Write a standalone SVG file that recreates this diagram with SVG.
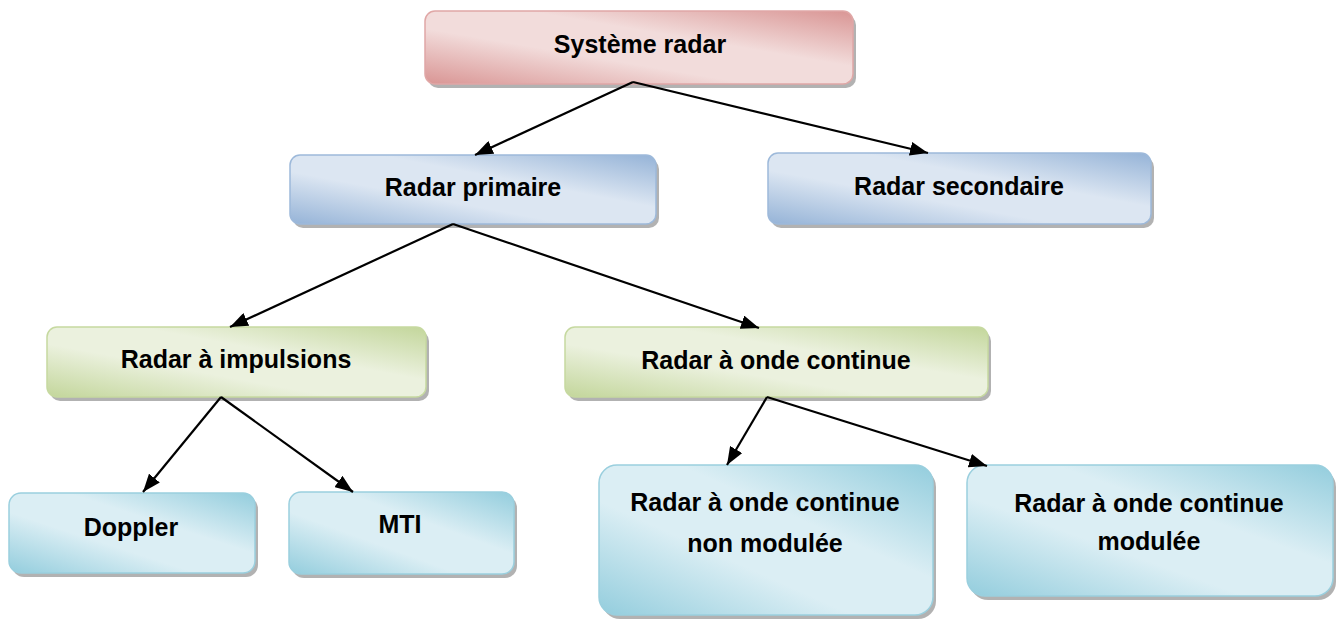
<svg xmlns="http://www.w3.org/2000/svg" width="1338" height="619" viewBox="0 0 1338 619">
<style>
.box{stroke-width:1.5}
.sh{fill:#000;opacity:0.3}
.t{font-family:"Liberation Sans",Arial,sans-serif;font-weight:bold;font-size:25px;fill:#000;text-anchor:middle}
.c line{stroke:#000;stroke-width:2.2;marker-end:url(#ah)}
</style>
<defs>
<linearGradient id="gRed" x1="0" y1="1" x2="1" y2="0">
<stop offset="0" stop-color="#D99594"/><stop offset="0.38" stop-color="#F2DCDB"/><stop offset="0.62" stop-color="#F2DCDB"/><stop offset="1" stop-color="#D99594"/>
</linearGradient>
<linearGradient id="gBlue" x1="0" y1="1" x2="1" y2="0">
<stop offset="0" stop-color="#95B3D7"/><stop offset="0.38" stop-color="#DCE6F2"/><stop offset="0.62" stop-color="#DCE6F2"/><stop offset="1" stop-color="#95B3D7"/>
</linearGradient>
<linearGradient id="gGreen" x1="0" y1="1" x2="1" y2="0">
<stop offset="0" stop-color="#C3D69B"/><stop offset="0.38" stop-color="#EBF1DE"/><stop offset="0.62" stop-color="#EBF1DE"/><stop offset="1" stop-color="#C3D69B"/>
</linearGradient>
<linearGradient id="gCyan" x1="0" y1="1" x2="1" y2="0">
<stop offset="0" stop-color="#93CDDD"/><stop offset="0.38" stop-color="#DBEEF4"/><stop offset="0.62" stop-color="#DBEEF4"/><stop offset="1" stop-color="#93CDDD"/>
</linearGradient>
<marker id="ah" viewBox="0 0 18 14" refX="18" refY="7" markerWidth="18" markerHeight="14" markerUnits="userSpaceOnUse" orient="auto">
<path d="M0,0 L18,7 L0,14 z" fill="#000"/>
</marker>
</defs>
<rect width="1338" height="619" fill="#fff"/>

<g id="n-systeme">
<rect class="sh" x="428" y="15" width="428" height="73" rx="10"/>
<rect class="box" x="425" y="11" width="428" height="73" rx="10" fill="url(#gRed)" stroke="#E0A7A6"/>
<text class="t" x="640" y="53">Système radar</text>
</g>
<g id="n-primaire">
<rect class="sh" x="293" y="159" width="366" height="69" rx="10"/>
<rect class="box" x="290" y="155" width="366" height="69" rx="10" fill="url(#gBlue)" stroke="#9DB9DA"/>
<text class="t" x="473" y="196">Radar primaire</text>
</g>
<g id="n-secondaire">
<rect class="sh" x="771" y="157" width="383" height="71" rx="10"/>
<rect class="box" x="768" y="153" width="383" height="71" rx="10" fill="url(#gBlue)" stroke="#9DB9DA"/>
<text class="t" x="959" y="195">Radar secondaire</text>
</g>
<g id="n-impulsions">
<rect class="sh" x="50" y="331" width="379" height="70" rx="10"/>
<rect class="box" x="47" y="327" width="379" height="70" rx="10" fill="url(#gGreen)" stroke="#C6D9A0"/>
<text class="t" x="236" y="368">Radar à impulsions</text>
</g>
<g id="n-onde">
<rect class="sh" x="568" y="331" width="423" height="70" rx="10"/>
<rect class="box" x="565" y="327" width="423" height="70" rx="10" fill="url(#gGreen)" stroke="#C6D9A0"/>
<text class="t" x="776" y="369">Radar à onde continue</text>
</g>
<g id="n-doppler">
<rect class="sh" x="12" y="497" width="246" height="80" rx="12"/>
<rect class="box" x="9" y="493" width="246" height="80" rx="12" fill="url(#gCyan)" stroke="#9ACFDE"/>
<text class="t" x="131" y="536">Doppler</text>
</g>
<g id="n-mti">
<rect class="sh" x="292" y="496" width="225" height="82" rx="12"/>
<rect class="box" x="289" y="492" width="225" height="82" rx="12" fill="url(#gCyan)" stroke="#9ACFDE"/>
<text class="t" x="400" y="533">MTI</text>
</g>
<g id="n-nonmod">
<rect class="sh" x="602" y="469" width="334" height="150" rx="18"/>
<rect class="box" x="599" y="465" width="334" height="150" rx="18" fill="url(#gCyan)" stroke="#9ACFDE"/>
<text class="t" x="765" y="511">Radar à onde continue</text>
<text class="t" x="765" y="552">non modulée</text>
</g>
<g id="n-mod">
<rect class="sh" x="970" y="469" width="366" height="131" rx="18"/>
<rect class="box" x="967" y="465" width="366" height="131" rx="18" fill="url(#gCyan)" stroke="#9ACFDE"/>
<text class="t" x="1149" y="512">Radar à onde continue</text>
<text class="t" x="1149" y="550">modulée</text>
</g>

<g id="connectors" class="c">
<line x1="633" y1="82" x2="475" y2="155"/>
<line x1="633" y1="82" x2="928" y2="153"/>
<line x1="453" y1="224" x2="230" y2="327"/>
<line x1="453" y1="224" x2="759" y2="328"/>
<line x1="221" y1="397" x2="143" y2="492"/>
<line x1="221" y1="397" x2="353" y2="492"/>
<line x1="767" y1="397" x2="727" y2="465"/>
<line x1="767" y1="397" x2="987" y2="466"/>
</g>
</svg>
